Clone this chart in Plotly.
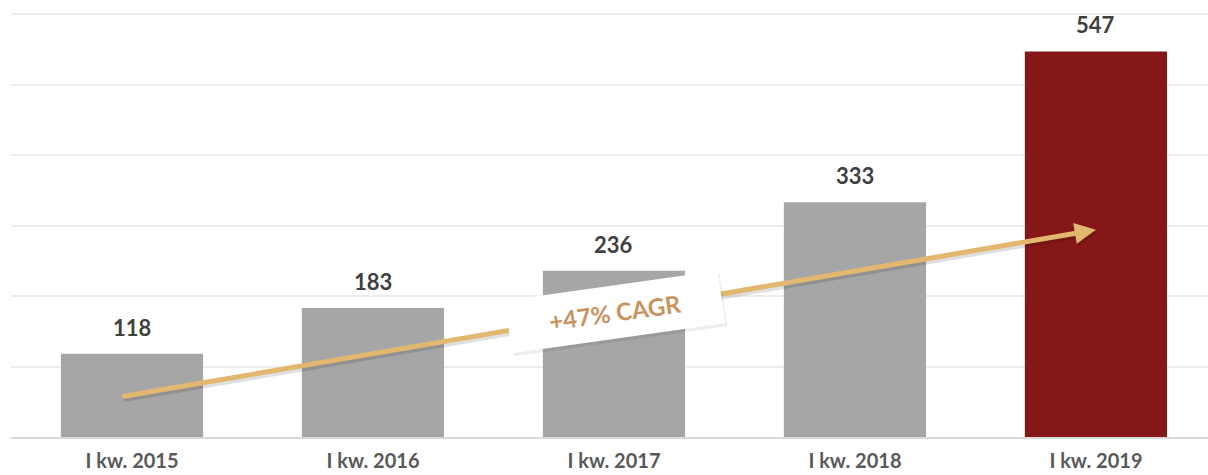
import plotly.graph_objects as go

categories = ["I kw. 2015", "I kw. 2016", "I kw. 2017", "I kw. 2018", "I kw. 2019"]
values = [118, 183, 236, 333, 547]
bar_colors = ["#A6A6A6", "#A6A6A6", "#A6A6A6", "#A6A6A6", "#861719"]
cagr_label = "+47% CAGR"
arrow_start = (-0.046, 57)
arrow_end = (4.0, 294)

fig = go.Figure()
fig.add_trace(go.Bar(
    x=list(range(len(categories))), y=values,
    marker=dict(color=bar_colors, line=dict(width=0)),
    width=0.59,
    cliponaxis=False, hoverinfo="skip",
))

for i, v in enumerate(values):
    fig.add_annotation(x=i, y=v, xref="x", yref="y", text=str(v), showarrow=False,
                       yanchor="bottom", yshift=11,
                       font=dict(family="Lato", size=22, color="#404040", weight="bold"))

# arrow shadow
fig.add_annotation(x=arrow_end[0], y=arrow_end[1], ax=arrow_start[0], ay=arrow_start[1],
                   xref="x", yref="y", axref="x", ayref="y", text="",
                   showarrow=True, arrowhead=2, arrowsize=0.85, arrowwidth=5,
                   arrowcolor="rgba(0,0,0,0.12)", xshift=1, yshift=-3)
fig.add_annotation(x=arrow_end[0], y=arrow_end[1], ax=arrow_start[0], ay=arrow_start[1],
                   xref="x", yref="y", axref="x", ayref="y", text="",
                   showarrow=True, arrowhead=2, arrowsize=0.85, arrowwidth=5,
                   arrowcolor="#E2B870")

# label box shadow
fig.add_annotation(x=2.006, y=177, xref="x", yref="y", text=cagr_label, showarrow=False,
                   textangle=-8, font=dict(family="Lato", size=24, color="rgba(0,0,0,0)"),
                   bgcolor="rgba(0,0,0,0.07)", width=212, height=50, xshift=2, yshift=-3)
fig.add_annotation(x=2.006, y=177, xref="x", yref="y", text=cagr_label, showarrow=False,
                   textangle=-8, font=dict(family="Lato", size=24, color="#C8935E", weight="bold"),
                   bgcolor="white", width=212, height=50)

fig.update_layout(
    width=1208, height=475,
    margin=dict(l=11, r=0, t=12, b=38),
    paper_bgcolor="white", plot_bgcolor="white",
    showlegend=False,
    xaxis=dict(range=[-0.502, 4.465], tickmode="array",
               tickvals=list(range(len(categories))), ticktext=categories,
               tickfont=dict(family="Lato", size=20, color="#595959", weight="bold"),
               showgrid=False, showline=True, linecolor="#D9D9D9", linewidth=2,
               ticks="", ticklen=0),
    yaxis=dict(range=[0, 603], tickmode="array", tickvals=[100, 200, 300, 400, 500, 600],
               showticklabels=False,
               showgrid=True, gridcolor="#EDEDED", gridwidth=1.5,
               zeroline=False, showline=False, ticks=""),
    font=dict(family="Lato"),
)
fig.update_xaxes(ticklabelstandoff=5)

fig.write_html("out.html", config={"displayModeBar": False},
               post_script="document.body.style.margin='0px';document.body.style.overflow='hidden';")
